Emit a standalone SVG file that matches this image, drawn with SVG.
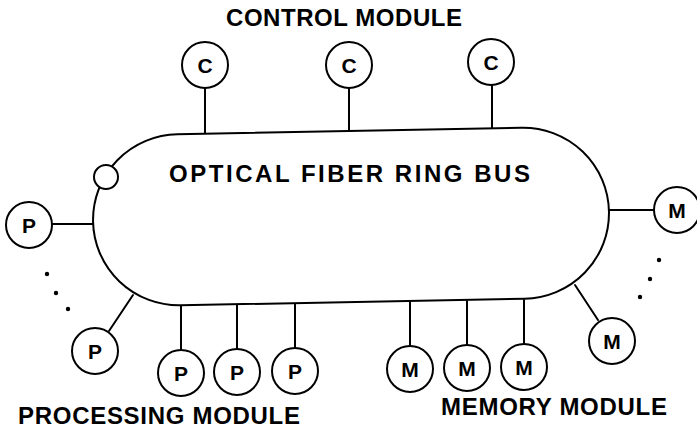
<svg xmlns="http://www.w3.org/2000/svg" width="697" height="429" viewBox="0 0 697 429">
<style>
.ln{stroke:#000;stroke-width:2;fill:none;stroke-linecap:round}
.nd{fill:#fff;stroke:#000;stroke-width:2}
.lb{font-family:"Liberation Sans",Arial,sans-serif;font-weight:bold;font-size:21px;text-anchor:middle;fill:#000}
.tt{font-family:"Liberation Sans",Arial,sans-serif;font-weight:bold;font-size:24px;fill:#000}
.dot{fill:#000}
</style>
<rect width="697" height="429" fill="#fff"/>
<g id="connectors">
<line class="ln" x1="205" y1="88" x2="205" y2="135"/>
<line class="ln" x1="349" y1="88" x2="349" y2="131"/>
<line class="ln" x1="492" y1="85" x2="492" y2="128"/>
<line class="ln" x1="52" y1="224" x2="93" y2="224"/>
<line class="ln" x1="133" y1="295" x2="109" y2="331"/>
<line class="ln" x1="181" y1="304" x2="181" y2="350"/>
<line class="ln" x1="237" y1="304" x2="237" y2="349"/>
<line class="ln" x1="295" y1="303" x2="295" y2="348"/>
<line class="ln" x1="410" y1="302" x2="410" y2="346"/>
<line class="ln" x1="467" y1="301" x2="467" y2="345"/>
<line class="ln" x1="524" y1="300" x2="524" y2="344"/>
<line class="ln" x1="575" y1="285" x2="598" y2="320"/>
<line class="ln" x1="609" y1="210" x2="654" y2="210"/>
</g>
<g id="ring">
<rect class="nd" x="93" y="131" width="516" height="171" rx="86" ry="86" transform="rotate(-1.1 351 216)"/>
<text class="tt" x="169" y="182" textLength="361" lengthAdjust="spacing">OPTICAL FIBER RING BUS</text>
</g>
<g id="tap"><circle class="nd" cx="106" cy="177" r="12"/></g>
<g id="c1"><circle class="nd" cx="205" cy="65" r="23"/><text class="lb" x="205" y="72.5">C</text></g>
<g id="c2"><circle class="nd" cx="349" cy="65" r="23"/><text class="lb" x="349" y="72.5">C</text></g>
<g id="c3"><circle class="nd" cx="491" cy="62" r="23"/><text class="lb" x="491" y="69.5">C</text></g>
<g id="p1"><circle class="nd" cx="29" cy="225" r="23"/><text class="lb" x="29" y="232.5">P</text></g>
<g id="p2"><circle class="nd" cx="95" cy="351" r="23"/><text class="lb" x="95" y="358.5">P</text></g>
<g id="p3"><circle class="nd" cx="181" cy="373" r="23"/><text class="lb" x="181" y="380.5">P</text></g>
<g id="p4"><circle class="nd" cx="237" cy="372" r="23"/><text class="lb" x="237" y="379.5">P</text></g>
<g id="p5"><circle class="nd" cx="295" cy="371" r="23"/><text class="lb" x="295" y="378.5">P</text></g>
<g id="m1"><circle class="nd" cx="410" cy="369" r="23"/><text class="lb" x="410" y="376.5">M</text></g>
<g id="m2"><circle class="nd" cx="467" cy="368" r="23"/><text class="lb" x="467" y="375.5">M</text></g>
<g id="m3"><circle class="nd" cx="524" cy="367" r="23"/><text class="lb" x="524" y="374.5">M</text></g>
<g id="m4"><circle class="nd" cx="612" cy="341" r="23"/><text class="lb" x="612" y="348.5">M</text></g>
<g id="m5"><circle class="nd" cx="677" cy="210" r="23"/><text class="lb" x="677" y="217.5">M</text></g>
<g id="dots">
<circle class="dot" cx="47" cy="274" r="2.2"/>
<circle class="dot" cx="56" cy="293" r="2.2"/>
<circle class="dot" cx="68" cy="309" r="2.2"/>
<circle class="dot" cx="659" cy="260" r="2.2"/>
<circle class="dot" cx="650" cy="279" r="2.2"/>
<circle class="dot" cx="640" cy="297" r="2.2"/>
</g>
<g id="labels">
<text class="tt" x="226" y="26" textLength="236" lengthAdjust="spacing">CONTROL MODULE</text>
<text class="tt" x="18" y="424" textLength="282" lengthAdjust="spacing">PROCESSING MODULE</text>
<text class="tt" x="441" y="415" textLength="226" lengthAdjust="spacing">MEMORY MODULE</text>
</g>
</svg>
